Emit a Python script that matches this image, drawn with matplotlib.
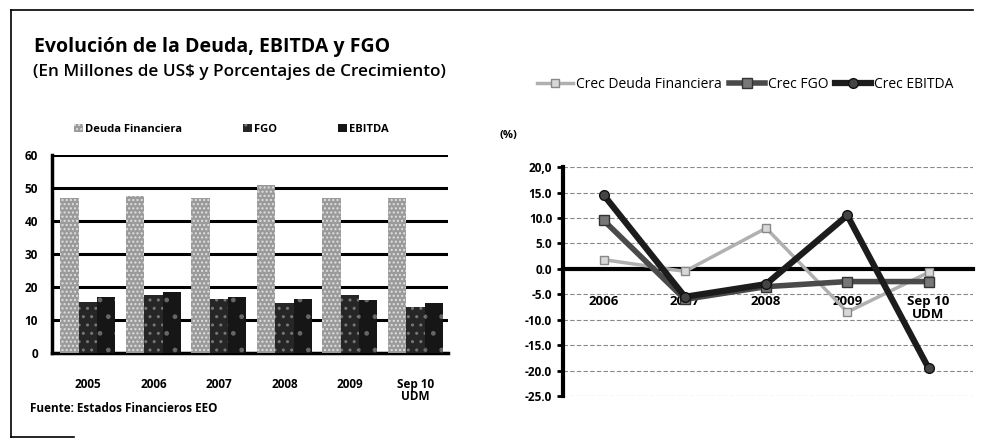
import numpy as np
import matplotlib
matplotlib.use("Agg")
import matplotlib.pyplot as plt
from matplotlib.lines import Line2D

plt.rcParams['font.family'] = ['Open Sans', 'DejaVu Sans']

# Data
years_bar = ['2005', '2006', '2007', '2008', '2009', 'Sep 10\nUDM']
deuda = [47, 47.5, 47, 51, 47, 47]
fgo = [15.5, 17.5, 16.5, 15, 17.5, 13.8]
ebitda = [17, 18.5, 17, 16.5, 16, 15]

years_line = ['2006', '2007', '2008', '2009', 'Sep 10\nUDM']
crec_deuda = [1.8, -0.5, 8.0, -8.5, -0.7]
crec_fgo = [9.5, -6.0, -3.5, -2.5, -2.5]
crec_ebitda = [14.5, -5.5, -3.0, 10.5, -19.5]

fig = plt.figure(figsize=(9.88, 4.42), dpi=100)

# partial frame (top and left edges, as in the scan)
fig.add_artist(Line2D([0.011, 0.985], [0.977, 0.977], transform=fig.transFigure,
                      color='black', lw=1.2))
fig.add_artist(Line2D([0.011, 0.011], [0.977, 0.012], transform=fig.transFigure,
                      color='black', lw=1.2))
fig.add_artist(Line2D([0.011, 0.075], [0.012, 0.012], transform=fig.transFigure,
                      color='black', lw=1.2))

fig.text(0.034, 0.882, 'Evolución de la Deuda, EBITDA y FGO', fontsize=14,
         fontweight='bold', ha='left', va='baseline')
fig.text(0.033, 0.828, '(En Millones de US$ y Porcentajes de Crecimiento)', fontsize=12.3,
         fontweight='semibold', ha='left', va='baseline')

# ---- left: bars
ax1 = fig.add_axes([0.0526, 0.2014, 0.401, 0.448])
x = np.arange(len(years_bar))
w = 0.28
ax1.bar(x - w, deuda, w, color='#9a9a9a', hatch='....', edgecolor='#e0e0e0', lw=0,
        label='Deuda Financiera', zorder=3)
ax1.bar(x, fgo, w, color='#262626', hatch='..', edgecolor='#777777', lw=0,
        label='FGO', zorder=3)
ax1.bar(x + w, ebitda, w, color='#161616', hatch='.', edgecolor='#666666', lw=0,
        label='EBITDA', zorder=3)
ax1.set_xlim(-0.55, 5.5)
ax1.set_ylim(0, 60)
ax1.set_yticks(range(0, 61, 10))
ax1.yaxis.grid(True, color='black', lw=2.2, zorder=1)
ax1.set_xticks(x)
ax1.set_xticklabels(years_bar, fontsize=8.5, linespacing=0.95)
ax1.tick_params(axis='x', length=0, pad=18)
ax1.tick_params(axis='y', labelsize=8.5, length=0, pad=10)
for t in ax1.get_xticklabels() + ax1.get_yticklabels():
    t.set_fontweight('bold')
for s in ['top', 'right']:
    ax1.spines[s].set_visible(False)
ax1.spines['left'].set_linewidth(2.5)
ax1.spines['bottom'].set_linewidth(2.5)
ax1.legend(loc='lower left', bbox_to_anchor=(0.03, 1.05), ncol=3, frameon=False,
           handlelength=0.8, handletextpad=0.2, columnspacing=5.5,
           prop={'weight': 'bold', 'size': 8})
fig.text(0.03, 0.062, 'Fuente: Estados Financieros EEO', fontsize=8.5, fontweight='bold',
         ha='left', va='bottom')

# ---- right: growth lines
ax2 = fig.add_axes([0.570, 0.104, 0.415, 0.518])
# spine position first: it resets the ticks
ax2.spines['bottom'].set_position(('data', 0))
ax2.spines['bottom'].set_linewidth(3)
ax2.spines['left'].set_linewidth(3)
for s in ['top', 'right']:
    ax2.spines[s].set_visible(False)

xl = np.arange(len(years_line))
ax2.plot(xl, crec_deuda, color='#b0b0b0', lw=2.5, marker='s', ms=6, mfc='#d8d8d8',
         mec='#888888', label='Crec Deuda Financiera', zorder=3)
ax2.plot(xl, crec_fgo, color='#4a4a4a', lw=4, marker='s', ms=7, mfc='#777777',
         mec='#333333', label='Crec FGO', zorder=4)
ax2.plot(xl, crec_ebitda, color='#1c1c1c', lw=4.5, marker='o', ms=7, mfc='#444444',
         mec='#111111', label='Crec EBITDA', zorder=5)
ax2.set_xlim(-0.5, 4.55)
ax2.set_ylim(-25, 20)
ax2.set_yticks(np.arange(-25, 21, 5))
ylabels = [f'{v:.1f}' for v in np.arange(-25, 21, 5)]
ylabels[-1] = '20,0'
ax2.set_yticklabels(ylabels, fontsize=8.5, fontweight='bold')
ax2.yaxis.grid(True, color='#888888', lw=0.8, ls=(0, (4, 2)), zorder=1)
ax2.set_xticks(xl)
ax2.set_xticklabels(years_line, fontsize=9.5, fontweight='bold', linespacing=0.95)
ax2.tick_params(axis='x', length=0, pad=19)
ax2.tick_params(axis='y', length=4, width=2, pad=4)
ax2.text(-0.155, 1.14, '(%)', transform=ax2.transAxes, fontsize=8, fontweight='bold',
         ha='left', va='center')
ax2.legend(loc='center', bbox_to_anchor=(0.444, 1.36), ncol=3, frameon=False,
           handlelength=2.6, handletextpad=0.2, columnspacing=0.5,
           prop={'size': 10})

fig.savefig('out.png', dpi=100)
